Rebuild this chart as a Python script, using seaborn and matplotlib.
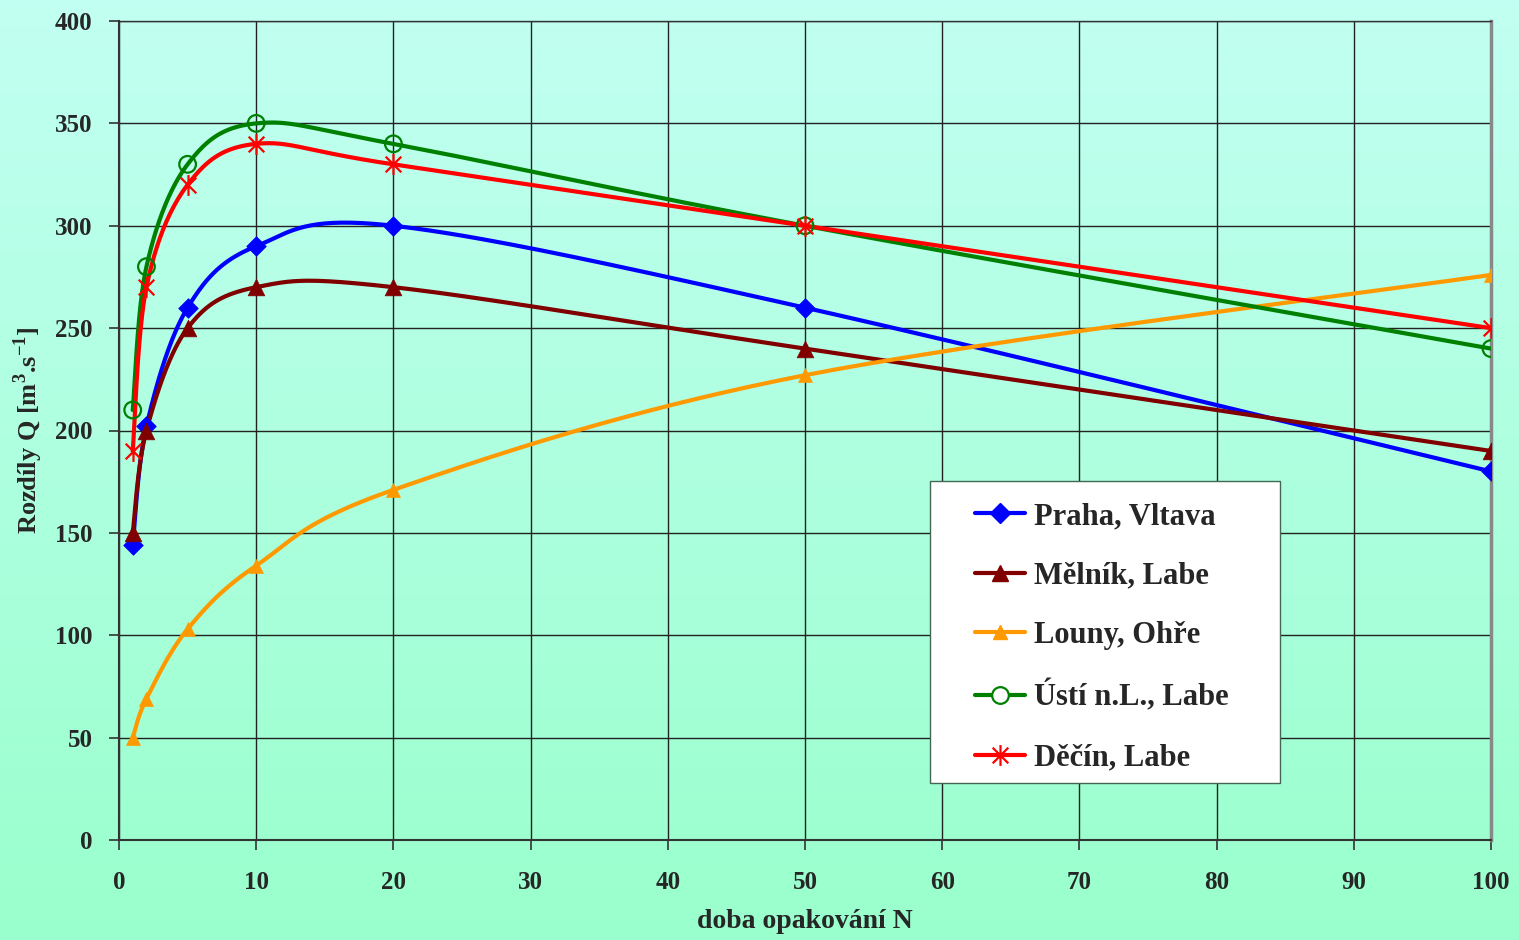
import numpy as np
import pandas as pd
import matplotlib
matplotlib.use("Agg")
import matplotlib.pyplot as plt
from matplotlib.path import Path
from matplotlib.lines import Line2D
from matplotlib.patches import Rectangle
from matplotlib.colors import LinearSegmentedColormap
import seaborn as sns

# ---- data ----
N = [1, 2, 5, 10, 20, 50, 100]
praha = [144, 202, 260, 290, 300, 260, 180]
melnik = [150, 200, 250, 270, 270, 240, 190]
louny = [50, 69, 103, 134, 171, 227, 276]
usti = [210, 280, 330, 350, 340, 300, 240]
decin = [190, 270, 320, 340, 330, 300, 250]
series_names = ["Praha, Vltava", "Mělník, Labe", "Louny, Ohře", "Ústí n.L., Labe", "Děčín, Labe"]
series_values = [praha, melnik, louny, usti, decin]
colors = ["#0000FF", "#800000", "#FF9900", "#008000", "#FF0000"]
x_ticks = list(range(0, 101, 10))
y_ticks = list(range(0, 401, 50))

sns.set_theme(style="white")
plt.rcParams["font.family"] = ["Liberation Serif", "DejaVu Serif"]
plt.rcParams["font.weight"] = "bold"
plt.rcParams["mathtext.fontset"] = "custom"
plt.rcParams["mathtext.rm"] = "Liberation Serif:bold"
plt.rcParams["mathtext.bf"] = "Liberation Serif:bold"

W, H = 1519, 940
fig = plt.figure(figsize=(W / 100, H / 100), dpi=100)

# gradient background
bg = fig.add_axes([0, 0, 1, 1], zorder=-10)
cmap = LinearSegmentedColormap.from_list("bg", ["#99FFCC", "#C2FFF2"])
grad = np.linspace(0, 1, 256).reshape(-1, 1)
bg.imshow(grad, aspect="auto", cmap=cmap, origin="lower", extent=[0, 1, 0, 1])
bg.set_axis_off()

L, R, T, B = 119, 1491, 21, 840
ax = fig.add_axes([L / W, 1 - B / H, (R - L) / W, (B - T) / H])
ax.patch.set_alpha(0)

sx, sy = (R - L) / 100.0, (B - T) / 400.0


def px2ax(px, py):
    return (px - L) / (R - L), (B - py) / (B - T)


def smooth(xs, ys, n=40):
    P = np.column_stack([np.array(xs, float) * sx, np.array(ys, float) * sy])
    Pext = np.vstack([P[0], P, P[-1]])
    out = []
    for i in range(len(P) - 1):
        p0, p1, p2, p3 = Pext[i], Pext[i + 1], Pext[i + 2], Pext[i + 3]
        c1 = p1 + (p2 - p0) / 6.0
        c2 = p2 - (p3 - p1) / 6.0
        t = np.linspace(0, 1, n)[:, None]
        seg = (1 - t) ** 3 * p1 + 3 * (1 - t) ** 2 * t * c1 + 3 * (1 - t) * t ** 2 * c2 + t ** 3 * p2
        out.append(seg if i == 0 else seg[1:])
    out = np.vstack(out)
    return out[:, 0] / sx, out[:, 1] / sy


# asterisk marker: vertical + two diagonals
star = Path([(0, -1), (0, 1), (-0.75, -0.75), (0.75, 0.75), (-0.75, 0.75), (0.75, -0.75)],
            [Path.MOVETO, Path.LINETO, Path.MOVETO, Path.LINETO, Path.MOVETO, Path.LINETO])
markers = ["D", "^", "^", "o", star]
msizes = [10, 12, 10, 12, 15]

rows = []
for name, vals in zip(series_names, series_values):
    cx, cy = smooth(N, vals)
    for k, (a, b) in enumerate(zip(cx, cy)):
        rows.append((name, k, a, b))
curves = pd.DataFrame(rows, columns=["series", "k", "x", "y"])

sns.lineplot(data=curves, x="x", y="y", hue="series", hue_order=series_names,
             palette=colors, units="series", estimator=None, sort=False,
             linewidth=3, legend=False, ax=ax, zorder=3)

handles = []
for name, vals, c, m, ms in zip(series_names, series_values, colors, markers, msizes):
    pts = pd.DataFrame({"x": N, "y": vals})
    if m == "o":
        sns.scatterplot(data=pts, x="x", y="y", marker="o", s=ms ** 2, facecolors="none",
                        edgecolor=c, linewidth=1.6, ax=ax, zorder=4)
        h = Line2D([], [], color=c, lw=3, marker="o", ms=ms, mfc="white", mec=c, mew=1.6)
    elif m is star:
        sns.scatterplot(data=pts, x="x", y="y", marker=star, s=ms ** 2, color=c,
                        edgecolor=c, linewidth=1.6, ax=ax, zorder=4)
        h = Line2D([], [], color=c, lw=3, marker=star, ms=ms, mec=c, mew=1.6)
    else:
        sns.scatterplot(data=pts, x="x", y="y", marker=m, s=ms ** 2, color=c,
                        edgecolor=c, linewidth=0.5, ax=ax, zorder=4)
        h = Line2D([], [], color=c, lw=3, marker=m, ms=ms, mfc=c, mec=c)
    handles.append(h)

ax.set_xlim(0, 100)
ax.set_ylim(0, 400)
ax.set_xticks(x_ticks)
ax.set_yticks(y_ticks)
ax.set_xticklabels([str(v) for v in x_ticks], fontsize=18, fontweight="bold")
ax.set_yticklabels([str(v) for v in y_ticks], fontsize=18, fontweight="bold")
ax.tick_params(axis="both", which="major", direction="out", length=7, width=1.2,
               color="#333333", left=True, bottom=True)
ax.tick_params(axis="x", pad=15)
ax.tick_params(axis="y", pad=12)
ax.grid(True, color="#222222", linewidth=1.0)
ax.set_axisbelow(True)
for s in ["left", "bottom"]:
    ax.spines[s].set_color("#333333")
    ax.spines[s].set_linewidth(1.5)
ax.spines["top"].set_color("#333333")
ax.spines["top"].set_linewidth(1.0)
ax.spines["right"].set_color("#888888")
ax.spines["right"].set_linewidth(2.5)

ax.set_xlabel("doba opakování N", fontsize=20, fontweight="bold", va="center")
ax.set_ylabel("Rozdíly Q [m$^{3}$.s$^{-1}$]", fontsize=19, fontweight="bold", va="center")
ax.xaxis.set_label_coords(0.5, (B - 922) / (B - T))
ax.yaxis.set_label_coords((28 - L) / (R - L), 0.5)

# legend frame
fx0, fy0 = px2ax(930, 783)
fx1, fy1 = px2ax(1280, 481)
ax.add_patch(Rectangle((fx0, fy0), fx1 - fx0, fy1 - fy0, transform=ax.transAxes,
                       facecolor="white", edgecolor="#446655", linewidth=1.0,
                       zorder=9, clip_on=False))
ax_anchor = px2ax(975, 502)
leg = ax.legend(handles, series_names, loc="upper left", bbox_to_anchor=ax_anchor,
                borderaxespad=0.0, borderpad=0.0,
                prop={"family": "Liberation Serif", "weight": "bold", "size": 22},
                numpoints=1, handlelength=1.65, handletextpad=0.28, labelspacing=1.0,
                frameon=False)
leg.set_zorder(10)

fig.savefig("out.png", dpi=100)
